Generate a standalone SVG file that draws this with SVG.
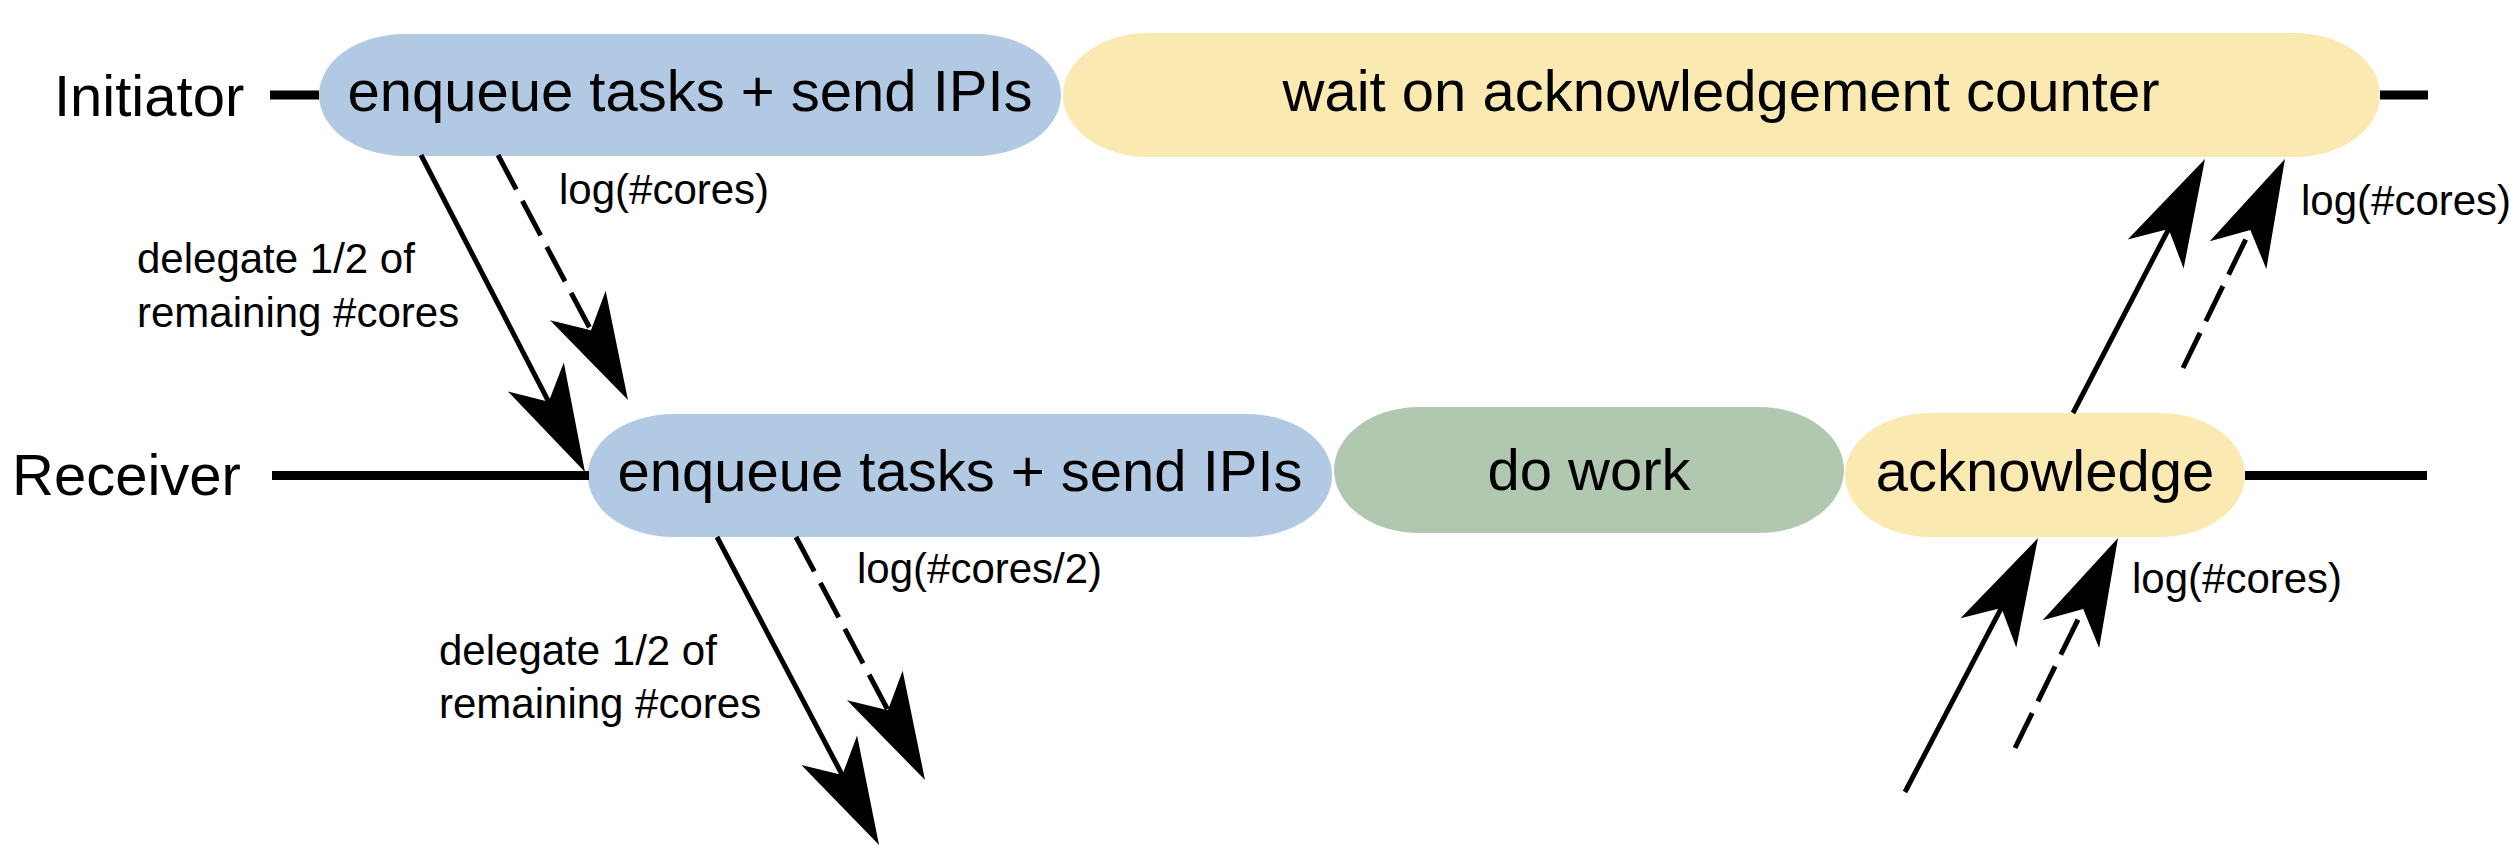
<svg xmlns="http://www.w3.org/2000/svg" width="2511" height="846" viewBox="0 0 2511 846">
<style>
.big{font-family:"Liberation Sans",Arial,sans-serif;font-size:58px;fill:#000}
.lbl{font-family:"Liberation Sans",Arial,sans-serif;font-size:42px;fill:#000}
.mid{text-anchor:middle}
.tl{stroke:#000;stroke-width:9;fill:none}
.arr{stroke:#000;stroke-width:5;fill:none;marker-end:url(#head)}
.dash{stroke-dasharray:39 13}
.blue{fill:#b1c9e2}
.yel{fill:#fbe9b2}
.grn{fill:#b0c7b0}
</style>
<defs>
<marker id="head" markerUnits="userSpaceOnUse" orient="auto" refX="0" refY="0" markerWidth="200" markerHeight="100" overflow="visible">
<path d="M77,0 L-30,-31.5 L-2,0 L-30,31.5 Z" fill="#000"/>
</marker>
</defs>
<rect width="2511" height="846" fill="#fff"/>
<text class="big" x="54" y="116">Initiator</text>
<text class="big" x="12" y="495">Receiver</text>
<g id="init-enqueue"><rect class="blue" x="319" y="34" width="742" height="122" rx="85" ry="61"/><text class="big mid" x="690" y="111">enqueue tasks + send IPIs</text></g>
<g id="init-wait"><rect class="yel" x="1063" y="33" width="1317" height="124" rx="85" ry="62"/><text class="big mid" x="1721" y="111">wait on acknowledgement counter</text></g>
<g id="recv-enqueue"><rect class="blue" x="588" y="414" width="744" height="123" rx="85" ry="61"/><text class="big mid" x="960" y="491">enqueue tasks + send IPIs</text></g>
<g id="recv-work"><rect class="grn" x="1334" y="407" width="510" height="126" rx="85" ry="63"/><text class="big mid" x="1589" y="490">do work</text></g>
<g id="recv-ack"><rect class="yel" x="1845" y="413" width="400" height="124" rx="85" ry="62"/><text class="big mid" x="2045" y="491">acknowledge</text></g>
<g id="connectors">
<line class="tl" x1="270" y1="95" x2="319" y2="95"/>
<line class="tl" x1="2380" y1="95" x2="2428" y2="95"/>
<line class="tl" x1="272" y1="475.5" x2="589" y2="475.5"/>
<line class="tl" x1="2245" y1="475.5" x2="2427" y2="475.5"/>
<line class="arr" x1="421" y1="155" x2="549.6" y2="403.6"/>
<line class="arr dash" x1="498" y1="155" x2="591.9" y2="332"/>
<line class="arr" x1="717" y1="537" x2="843.2" y2="776.8"/>
<line class="arr dash" x1="796" y1="537" x2="888.9" y2="712"/>
<line class="arr" x1="1905" y1="792" x2="2002.3" y2="606.2"/>
<line class="arr dash" x1="2015" y1="748" x2="2084.1" y2="607.1"/>
<line class="arr" x1="2073" y1="413" x2="2169.5" y2="227.3"/>
<line class="arr dash" x1="2183" y1="368" x2="2251.2" y2="228.2"/>
</g>
<g id="labels">
<text class="lbl" x="559" y="204">log(#cores)</text>
<text class="lbl" x="137" y="273">delegate 1/2 of</text>
<text class="lbl" x="137" y="327">remaining #cores</text>
<text class="lbl" x="857" y="583">log(#cores/2)</text>
<text class="lbl" x="439" y="665">delegate 1/2 of</text>
<text class="lbl" x="439" y="718">remaining #cores</text>
<text class="lbl" x="2301" y="215">log(#cores)</text>
<text class="lbl" x="2132" y="593">log(#cores)</text>
</g>
</svg>
